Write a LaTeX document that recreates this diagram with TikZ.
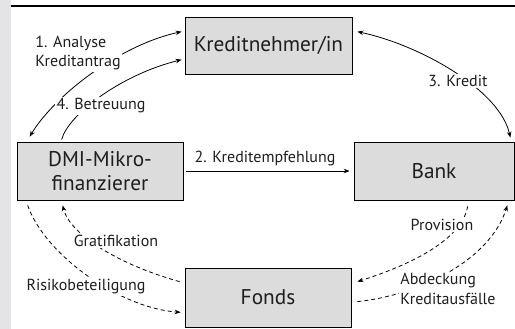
\documentclass[tikz,border=0pt]{standalone}
\usepackage{fontspec}
\setmainfont{PT Sans}
\usetikzlibrary{arrows.meta}
\definecolor{boxgray}{HTML}{DCDCDC}
\definecolor{stripgray}{HTML}{E4E4E6}
\definecolor{txt}{HTML}{1E1E1E}
\begin{document}
\begin{tikzpicture}[x=1pt,y=-1pt,
  box/.style={draw=black, line width=0.7pt, fill=boxgray, inner sep=0pt, text=txt,
    font=\fontsize{21.3}{24.5}\selectfont, align=center},
  lbl/.style={fill=white, inner sep=1.5pt, text=txt, font=\fontsize{16}{19.5}\selectfont, align=left},
  conn/.style={line width=0.8pt, -{Stealth[length=6pt,width=4.5pt]}},
  biconn/.style={line width=0.8pt, {Stealth[length=6pt,width=4.5pt]}-{Stealth[length=6pt,width=4.5pt]}},
  dconn/.style={conn, dash pattern=on 4pt off 3pt}]
\useasboundingbox (0,0) rectangle (515,329);
\fill[stripgray] (0,0) rectangle (10.5,329);
\draw[line width=1.4pt] (11,6) -- (515,6);

\node[box, minimum width=167pt, minimum height=57pt] (kn) at (268.5,45.5) {Kreditnehmer/in};
\node[box, minimum width=166pt, minimum height=58pt] (dmi) at (100,171) {DMI-Mikro-\\finanzierer};
\node[box, minimum width=160pt, minimum height=58pt] (bank) at (434,171) {Bank};
\node[box, minimum width=166pt, minimum height=59pt] (fonds) at (268,297.5) {Fonds};

% solid connectors
\draw[biconn] ([shift={(13,-5)}]dmi.north west) .. controls (55,95) and (120,45) .. ([shift={(-3,15)}]kn.north west);
\draw[conn] ([shift={(45,-2)}]dmi.north west) .. controls (68,115) and (120,75) .. ([shift={(-3,43)}]kn.north west);
\draw[biconn] ([shift={(5,15)}]kn.north east) .. controls (420,45) and (500,90) .. ([shift={(-4,-4)}]bank.north east);
\draw[conn] ([xshift=3pt]dmi.east) -- node[above=1pt, xshift=-3pt, text=txt, font=\fontsize{16}{19.5}\selectfont] (lke) {2. Kreditempfehlung} ([xshift=-4pt]bank.west);

% dashed connectors
\draw[dconn] ([shift={(11,5)}]dmi.south west) .. controls (45,255) and (120,308) .. ([shift={(-4,-15)}]fonds.south west);
\draw[dconn] ([shift={(-5,14)}]fonds.north west) .. controls (120,265) and (70,235) .. ([shift={(46,5)}]dmi.south west);
\draw[dconn] ([shift={(114,6)}]bank.south west) .. controls (462,240) and (410,265) .. ([shift={(6,14)}]fonds.north east);
\draw[dconn] ([shift={(6,34)}]fonds.north east) .. controls (420,295) and (490,260) .. ([shift={(-7,5)}]bank.south east);

% labels
\node[lbl] (lan) at (78,53) {1. Analyse\\Kreditantrag};
\node[lbl] (lbe) at (101,106) {4. Betreuung};
\node[lbl] (lkr) at (458,81) {3. Kredit};
\node[lbl] (lgr) at (116,241) {Gratifikation};
\node[lbl] (lri) at (86,287) {Risikobeteiligung};
\node[lbl] (lpr) at (442,225) {Provision};
\node[lbl] (lab) at (448,289) {Abdeckung\\Kreditausfälle};
\end{tikzpicture}
\end{document}
